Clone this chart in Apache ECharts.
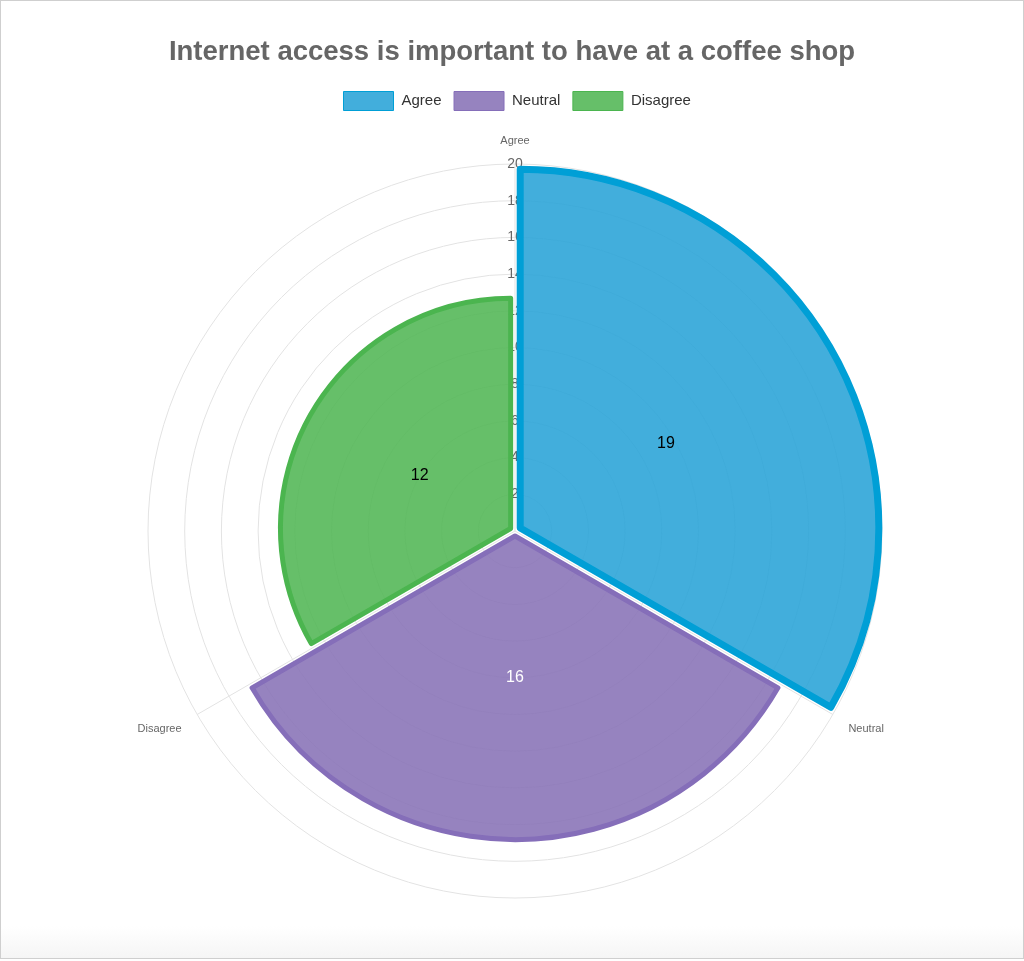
<!DOCTYPE html>
<html>
<head>
<meta charset="utf-8">
<title>Internet access is important to have at a coffee shop</title>
<script src="https://cdn.jsdelivr.net/npm/echarts@6/dist/echarts.min.js"></script>
<style>
    html, body { margin: 0; padding: 0; background: #fff; }
    #chart {
        position: absolute; left: 0; top: 0;
        width: 1022px; height: 957px;
        border: 1px solid #cfcfcf;
        background: linear-gradient(to bottom, #fff 0, #fff 925px, #f5f5f5 957px);
    }
</style>
</head>
<body>
<div id="chart"></div>
<script>
// 数据
var categories = ['Agree', 'Neutral', 'Disagree'];
var values = [19, 16, 12];
var radiusMin = 0;
var radiusMax = 20;
var radiusStep = 2;

// 样式
var fillColors = ['rgba(46,165,216,0.9)', 'rgba(139,117,184,0.9)', 'rgba(85,184,89,0.9)'];
var borderColors = ['#009fd6', '#856eb9', '#4bb54f'];
var borderWidths = [7, 5, 5];
var offsets = [6, 5, 5];
var labelColors = ['#000', '#fff', '#000'];
var fontFamily = '"Liberation Sans", Arial, Helvetica, sans-serif';

// 扇形绘制
function sectorRender(k) {
    return function (params, api) {
        var cs = params.coordSys;
        var v = api.value(0);
        var i = api.value(1);
        var p0 = api.coord([v, i]);
        var p1 = api.coord([v, i + 1]);
        var pm = api.coord([v / 2, i + 0.5]);
        var r = Math.sqrt(Math.pow(p0[0] - cs.cx, 2) + Math.pow(p0[1] - cs.cy, 2));
        var a0 = Math.atan2(p0[1] - cs.cy, p0[0] - cs.cx);
        var a1 = Math.atan2(p1[1] - cs.cy, p1[0] - cs.cx);
        if (a1 <= a0) {
            a1 += Math.PI * 2;
        }
        var am = (a0 + a1) / 2;
        return {
            type: 'group',
            children: [
                {
                    type: 'sector',
                    shape: {
                        cx: cs.cx + offsets[k] * Math.cos(am),
                        cy: cs.cy + offsets[k] * Math.sin(am),
                        r0: 0,
                        r: r + 10,
                        startAngle: a0,
                        endAngle: a1,
                        clockwise: true
                    },
                    style: {
                        fill: fillColors[k],
                        stroke: borderColors[k],
                        lineWidth: borderWidths[k],
                        lineJoin: 'round'
                    }
                },
                {
                    type: 'text',
                    style: {
                        text: String(v),
                        x: pm[0],
                        y: pm[1],
                        align: 'center',
                        verticalAlign: 'middle',
                        fill: labelColors[k],
                        font: '16px ' + fontFamily
                    }
                }
            ]
        };
    };
}

var series = categories.map(function (name, k) {
    return {
        type: 'custom',
        name: name,
        coordinateSystem: 'polar',
        renderItem: sectorRender(k),
        itemStyle: {color: fillColors[k], borderColor: borderColors[k]},
        data: [[values[k], k]],
        z: 2
    };
});

var chart = echarts.init(document.getElementById('chart'));
var option = {
    animation: false,
    textStyle: {fontFamily: fontFamily},
    title: {
        text: 'Internet access is important to have at a coffee shop',
        left: 'center',
        top: 32,
        textStyle: {fontSize: 27.5, fontWeight: 'bold', color: '#666', fontFamily: fontFamily}
    },
    legend: {
        top: 90,
        left: 342,
        padding: 0,
        icon: 'rect',
        itemWidth: 50,
        itemHeight: 19,
        itemGap: 12,
        textStyle: {fontSize: 15, color: '#333', padding: [0, 0, 0, 3]},
        data: categories.map(function (name, k) {
            return {
                name: name,
                itemStyle: {color: fillColors[k], borderColor: borderColors[k], borderWidth: 1}
            };
        })
    },
    polar: {
        center: [514, 530],
        radius: 367
    },
    angleAxis: {
        type: 'value',
        min: 0,
        max: categories.length,
        interval: 1,
        startAngle: 90,
        clockwise: true,
        axisLine: {show: false},
        axisTick: {show: false},
        axisLabel: {
            margin: 18,
            color: '#666',
            fontSize: 11,
            formatter: function (v) {
                return categories[v] || '';
            }
        },
        splitLine: {show: true, lineStyle: {color: '#e3e3e3', width: 1}}
    },
    radiusAxis: {
        type: 'value',
        min: radiusMin,
        max: radiusMax,
        interval: radiusStep,
        z: 0,
        axisLine: {show: false},
        axisTick: {show: false},
        axisLabel: {
            showMinLabel: false,
            margin: 0,
            align: 'center',
            verticalAlign: 'middle',
            color: '#666',
            fontSize: 14
        },
        splitLine: {show: true, lineStyle: {color: '#e3e3e3', width: 1}}
    },
    series: series
};
chart.setOption(option);
</script>
</body>
</html>
